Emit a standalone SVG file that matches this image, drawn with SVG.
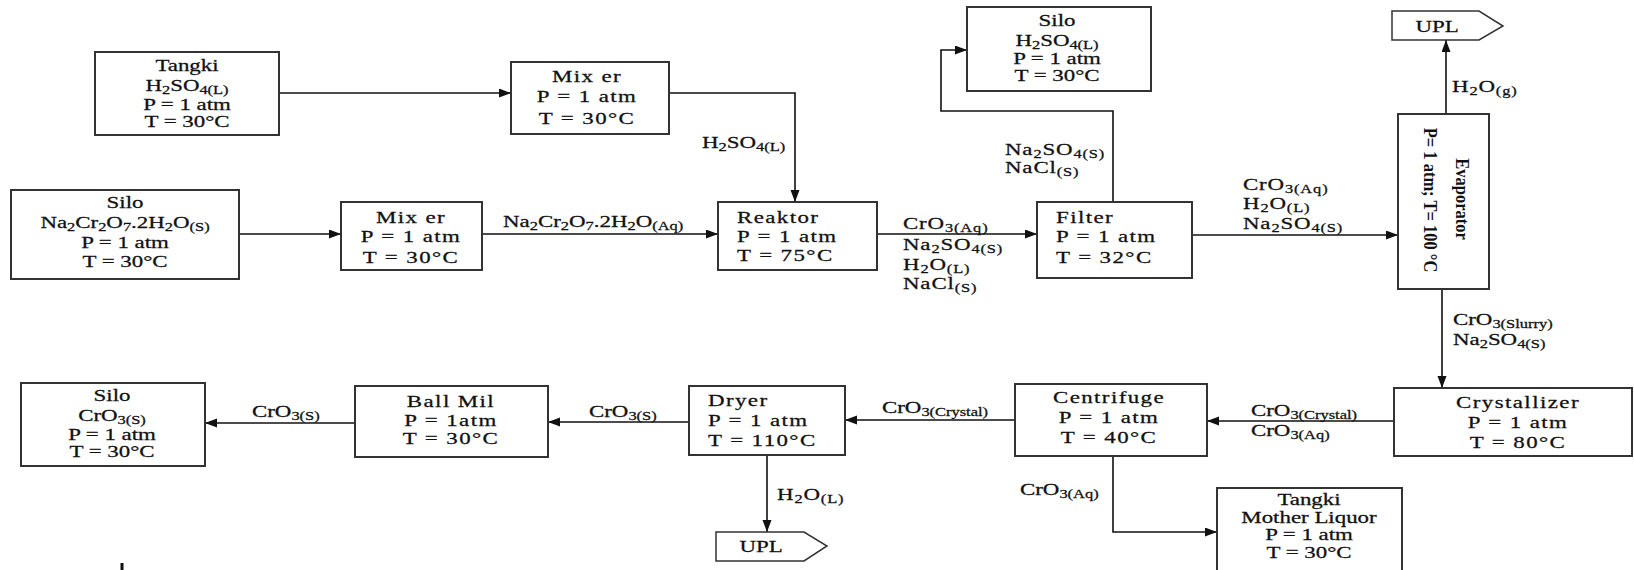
<svg xmlns="http://www.w3.org/2000/svg" width="1634" height="570" viewBox="0 0 1634 570">
<style>
text{font-family:"Liberation Serif","Times New Roman",serif;font-size:16px;fill:#111;stroke:#111;stroke-width:0.25}
.m{text-anchor:middle}
.ls{letter-spacing:1px}
.ls2{letter-spacing:0.6px}
.s{font-size:11.5px;baseline-shift:-3px}
.box{fill:#fff;stroke:#333;stroke-width:2}
.ln{fill:none;stroke:#111;stroke-width:1.6}
.rot{font-size:16.5px;font-weight:bold;stroke-width:0}
</style>
<defs>
<marker id="arr" markerUnits="userSpaceOnUse" markerWidth="13" markerHeight="10" refX="12" refY="4.5" orient="auto">
<path d="M0,0 L12,4.5 L0,9 z" fill="#111"/>
</marker>
</defs>

<g id="connectors">
<path class="ln" d="M279,93 H511" marker-end="url(#arr)"/>
<path class="ln" d="M239,234 H341" marker-end="url(#arr)"/>
<path class="ln" d="M669,93 H795 V202" marker-end="url(#arr)"/>
<path class="ln" d="M482,234 H718" marker-end="url(#arr)"/>
<path class="ln" d="M877,234 H1037" marker-end="url(#arr)"/>
<path class="ln" d="M1113,202 V111 H941 V50 H967" marker-end="url(#arr)"/>
<path class="ln" d="M1192,235 H1398" marker-end="url(#arr)"/>
<path class="ln" d="M1446,114 V40" marker-end="url(#arr)"/>
<path class="ln" d="M1442,289 V388" marker-end="url(#arr)"/>
<path class="ln" d="M1394,421 H1207" marker-end="url(#arr)"/>
<path class="ln" d="M1015,420 H845" marker-end="url(#arr)"/>
<path class="ln" d="M1113,456 V532 H1217" marker-end="url(#arr)"/>
<path class="ln" d="M689,422 H548" marker-end="url(#arr)"/>
<path class="ln" d="M767,455 V532" marker-end="url(#arr)"/>
<path class="ln" d="M355,423 H205" marker-end="url(#arr)"/>

<g transform="translate(702 0) scale(1.43 1)"><text x="0" y="148">H<tspan class="s">2</tspan>SO<tspan class="s">4(L)</tspan></text></g>
<g transform="translate(503 0) scale(1.43 1)"><text x="0" y="227">Na<tspan class="s">2</tspan>Cr<tspan class="s">2</tspan>O<tspan class="s">7</tspan>.2H<tspan class="s">2</tspan>O<tspan class="s">(Aq)</tspan></text></g>
<g transform="translate(903 0) scale(1.43 1)" class="ls2">
<text x="0" y="229">CrO<tspan class="s">3(Aq)</tspan></text>
<text x="0" y="250">Na<tspan class="s">2</tspan>SO<tspan class="s">4(S)</tspan></text>
<text x="0" y="270">H<tspan class="s">2</tspan>O<tspan class="s">(L)</tspan></text>
<text x="0" y="289">NaCl<tspan class="s">(S)</tspan></text>
</g>
<g transform="translate(1005 0) scale(1.43 1)" class="ls2">
<text x="0" y="155">Na<tspan class="s">2</tspan>SO<tspan class="s">4(S)</tspan></text>
<text x="0" y="173">NaCl<tspan class="s">(S)</tspan></text>
</g>
<g transform="translate(1243 0) scale(1.43 1)" class="ls2">
<text x="0" y="190">CrO<tspan class="s">3(Aq)</tspan></text>
<text x="0" y="209">H<tspan class="s">2</tspan>O<tspan class="s">(L)</tspan></text>
<text x="0" y="229">Na<tspan class="s">2</tspan>SO<tspan class="s">4(S)</tspan></text>
</g>
<g transform="translate(1452 0) scale(1.43 1)" class="ls2"><text x="0" y="92">H<tspan class="s">2</tspan>O<tspan class="s">(g)</tspan></text></g>
<g transform="translate(1453 0) scale(1.43 1)">
<text x="0" y="325">CrO<tspan class="s">3(Slurry)</tspan></text>
<text x="0" y="345">Na<tspan class="s">2</tspan>SO<tspan class="s">4(S)</tspan></text>
</g>
<g transform="translate(1251 0) scale(1.43 1)">
<text x="0" y="416">CrO<tspan class="s">3(Crystal)</tspan></text>
<text x="0" y="436">CrO<tspan class="s">3(Aq)</tspan></text>
</g>
<g transform="translate(882 0) scale(1.43 1)"><text x="0" y="413">CrO<tspan class="s">3(Crystal)</tspan></text></g>
<g transform="translate(1020 0) scale(1.43 1)"><text x="0" y="495">CrO<tspan class="s">3(Aq)</tspan></text></g>
<g transform="translate(589 0) scale(1.43 1)"><text x="0" y="417">CrO<tspan class="s">3(S)</tspan></text></g>
<g transform="translate(777 0) scale(1.43 1)" class="ls2"><text x="0" y="500">H<tspan class="s">2</tspan>O<tspan class="s">(L)</tspan></text></g>
<g transform="translate(252 0) scale(1.43 1)"><text x="0" y="417">CrO<tspan class="s">3(S)</tspan></text></g>
</g>

<g id="tangki-h2so4">
<rect class="box" x="95" y="52" width="184" height="83"/>
<g transform="translate(187 0) scale(1.43 1)" class="m">
<text x="0" y="71">Tangki</text>
<text x="0" y="91">H<tspan class="s">2</tspan>SO<tspan class="s">4(L)</tspan></text>
<text x="0" y="110">P = 1 atm</text>
<text x="0" y="127">T = 30°C</text>
</g>
</g>

<g id="silo-na2cr2o7">
<rect class="box" x="11" y="190" width="228" height="89"/>
<g transform="translate(125 0) scale(1.43 1)" class="m">
<text x="0" y="208">Silo</text>
<text x="0" y="228">Na<tspan class="s">2</tspan>Cr<tspan class="s">2</tspan>O<tspan class="s">7</tspan>.2H<tspan class="s">2</tspan>O<tspan class="s">(S)</tspan></text>
<text x="0" y="248">P = 1 atm</text>
<text x="0" y="267">T = 30°C</text>
</g>
</g>

<g id="mixer-1">
<rect class="box" x="511" y="62" width="158" height="72"/>
<g transform="translate(587 0) scale(1.43 1)" class="m ls">
<text x="0" y="82">Mix er</text>
<text x="0" y="102">P = 1 atm</text>
<text x="0" y="124">T = 30°C</text>
</g>
</g>

<g id="mixer-2">
<rect class="box" x="341" y="202" width="141" height="68"/>
<g transform="translate(411 0) scale(1.43 1)" class="m ls">
<text x="0" y="223">Mix er</text>
<text x="0" y="242">P = 1 atm</text>
<text x="0" y="263">T = 30°C</text>
</g>
</g>

<g id="reaktor">
<rect class="box" x="718" y="202" width="159" height="68"/>
<g transform="translate(737 0) scale(1.43 1)" class="ls">
<text x="0" y="223">Reaktor</text>
<text x="0" y="242">P = 1 atm</text>
<text x="0" y="261">T = 75°C</text>
</g>
</g>

<g id="silo-h2so4">
<rect class="box" x="967" y="7" width="184" height="84"/>
<g transform="translate(1057 0) scale(1.43 1)" class="m">
<text x="0" y="26">Silo</text>
<text x="0" y="46">H<tspan class="s">2</tspan>SO<tspan class="s">4(L)</tspan></text>
<text x="0" y="64">P = 1 atm</text>
<text x="0" y="81">T = 30°C</text>
</g>
</g>

<g id="filter">
<rect class="box" x="1037" y="202" width="155" height="76"/>
<g transform="translate(1056 0) scale(1.43 1)" class="ls">
<text x="0" y="223">Filter</text>
<text x="0" y="242">P = 1 atm</text>
<text x="0" y="263">T = 32°C</text>
</g>
</g>

<g id="evaporator">
<rect class="box" x="1398" y="114" width="91" height="175"/>
<g transform="translate(1456 199) scale(1.15 1) rotate(90)"><text x="0" y="0" class="m rot">Evaporator</text></g>
<g transform="translate(1424 200) scale(1.15 1) rotate(90)"><text x="0" y="0" class="m rot">P= 1 atm; T= 100 °C</text></g>
</g>

<g id="upl-top">
<path class="box" d="M1392,11 H1479 L1503,26 L1479,40 H1392 Z" style="stroke-width:1.5"/>
<g transform="translate(1437 0) scale(1.43 1)" class="m"><text x="0" y="32">UPL</text></g>
</g>

<g id="crystallizer">
<rect class="box" x="1394" y="388" width="238" height="68"/>
<g transform="translate(1518 0) scale(1.43 1)" class="m ls">
<text x="0" y="408">Crystallizer</text>
<text x="0" y="428">P = 1 atm</text>
<text x="0" y="448">T = 80°C</text>
</g>
</g>

<g id="centrifuge">
<rect class="box" x="1015" y="384" width="192" height="72"/>
<g transform="translate(1109 0) scale(1.43 1)" class="m ls">
<text x="0" y="403">Centrifuge</text>
<text x="0" y="423">P = 1 atm</text>
<text x="0" y="443">T = 40°C</text>
</g>
</g>

<g id="tangki-mother-liquor">
<rect class="box" x="1217" y="488" width="185" height="90"/>
<g transform="translate(1309 0) scale(1.43 1)" class="m">
<text x="0" y="505">Tangki</text>
<text x="0" y="523">Mother Liquor</text>
<text x="0" y="540">P = 1 atm</text>
<text x="0" y="558">T = 30°C</text>
</g>
</g>

<g id="dryer">
<rect class="box" x="689" y="386" width="156" height="69"/>
<g transform="translate(708 0) scale(1.43 1)" class="ls">
<text x="0" y="406">Dryer</text>
<text x="0" y="426">P = 1 atm</text>
<text x="0" y="446">T = 110°C</text>
</g>
</g>

<g id="upl-bottom">
<path class="box" d="M716,532 H804 L827,546 L804,561 H716 Z" style="stroke-width:1.5"/>
<g transform="translate(761 0) scale(1.43 1)" class="m"><text x="0" y="552">UPL</text></g>
</g>

<g id="ball-mil">
<rect class="box" x="355" y="386" width="193" height="71"/>
<g transform="translate(451 0) scale(1.43 1)" class="m ls">
<text x="0" y="407">Ball Mil</text>
<text x="0" y="426">P = 1atm</text>
<text x="0" y="444">T = 30°C</text>
</g>
</g>

<g id="silo-cro3">
<rect class="box" x="21" y="383" width="184" height="83"/>
<g transform="translate(112 0) scale(1.43 1)" class="m">
<text x="0" y="401">Silo</text>
<text x="0" y="421">CrO<tspan class="s">3(S)</tspan></text>
<text x="0" y="440">P = 1 atm</text>
<text x="0" y="457">T = 30°C</text>
</g>
</g>

<line x1="122" y1="563" x2="122" y2="570" stroke="#111" stroke-width="3"/>
</svg>
